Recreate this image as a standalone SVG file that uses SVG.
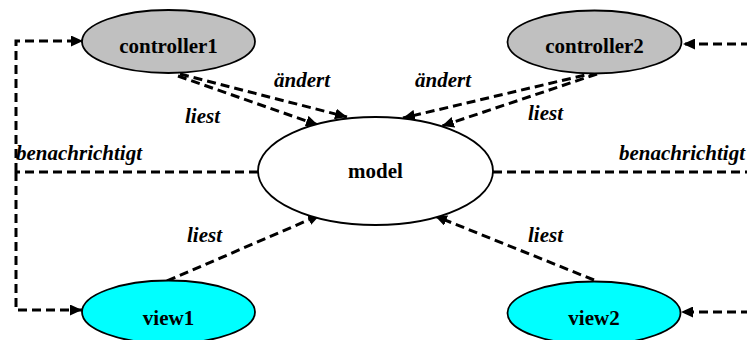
<svg xmlns="http://www.w3.org/2000/svg" width="747" height="340" viewBox="0 0 747 340">
  <style>
    .node { stroke: #000; stroke-width: 1.8; }
    .ctrl { fill: #c0c0c0; }
    .view { fill: #00ffff; }
    .model { fill: #ffffff; }
    text { font-family: 'Liberation Serif', 'DejaVu Serif', serif; font-weight: bold; font-size: 21px; fill: #000; }
    .name { text-anchor: middle; }
    .lbl { font-style: italic; }
    .edge { fill: none; stroke: #000; stroke-width: 3; stroke-dasharray: 9 5; }
    .arrow { marker-end: url(#head); }
  </style>
  <defs>
    <marker id="head" viewBox="0 0 12 11" refX="12" refY="5.5" markerWidth="12" markerHeight="11" markerUnits="userSpaceOnUse" orient="auto">
      <path d="M0,0 L12,5.5 L0,11 z" fill="#000"/>
    </marker>
  </defs>

  <rect width="747" height="340" fill="#ffffff"/>

  <g id="connectors">
    <!-- notification bus on the left -->
    <path class="edge" d="M258,172 H16"/>
    <path class="edge arrow" d="M16,172 V41 H83"/>
    <path class="edge arrow" d="M16,172 V310 H82"/>
    <!-- notification bus on the right -->
    <path class="edge" d="M493,172 H750"/>
    <path class="edge arrow" d="M750,44 H683"/>
    <path class="edge arrow" d="M750,312 H681"/>
    <!-- controller1 -> model -->
    <path class="edge arrow" d="M180,74 L347,117"/>
    <path class="edge arrow" d="M178,76 L318,125"/>
    <!-- controller2 -> model -->
    <path class="edge arrow" d="M598,72 L403,118"/>
    <path class="edge arrow" d="M597,74 L442,126"/>
    <!-- views -> model -->
    <path class="edge arrow" d="M167,281 L320,215"/>
    <path class="edge arrow" d="M594,280 L435,216"/>
  </g>

  <g id="edge-labels">
    <text class="lbl" x="274" y="87" font-family="Liberation Serif, serif">ändert</text>
    <text class="lbl" x="185" y="123" font-family="Liberation Serif, serif">liest</text>
    <text class="lbl" x="415" y="87" font-family="Liberation Serif, serif">ändert</text>
    <text class="lbl" x="528" y="120" font-family="Liberation Serif, serif">liest</text>
    <text class="lbl" x="16" y="160" font-family="Liberation Serif, serif">benachrichtigt</text>
    <text class="lbl" x="745" y="160" text-anchor="end" font-family="Liberation Serif, serif">benachrichtigt</text>
    <text class="lbl" x="187" y="242" font-family="Liberation Serif, serif">liest</text>
    <text class="lbl" x="528" y="242" font-family="Liberation Serif, serif">liest</text>
  </g>

  <g id="controller1">
    <ellipse class="node ctrl" cx="168.5" cy="41.5" rx="86.5" ry="31.5"/>
    <text class="name" x="168.5" y="53">controller1</text>
  </g>
  <g id="controller2">
    <ellipse class="node ctrl" cx="594.5" cy="42" rx="87" ry="31.5"/>
    <text class="name" x="594.5" y="53">controller2</text>
  </g>
  <g id="model">
    <ellipse class="node model" cx="375.5" cy="171" rx="117.5" ry="54"/>
    <text class="name" x="375.5" y="178">model</text>
  </g>
  <g id="view1">
    <ellipse class="node view" cx="168.5" cy="312" rx="86.5" ry="31.5"/>
    <text class="name" x="168.5" y="325">view1</text>
  </g>
  <g id="view2">
    <ellipse class="node view" cx="594" cy="313" rx="86.5" ry="31.5"/>
    <text class="name" x="594" y="325">view2</text>
  </g>
</svg>
